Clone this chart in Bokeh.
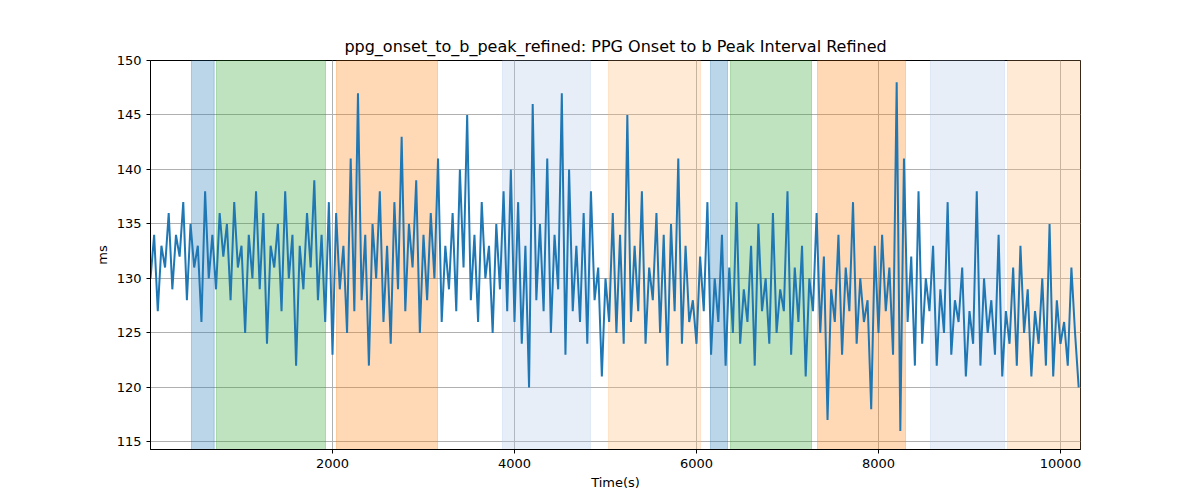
import numpy as np
from bokeh.plotting import figure
from bokeh.models import BoxAnnotation, FixedTicker
from bokeh.embed import file_html
from bokeh.resources import INLINE

# 数据：每40秒一个点
t_start, t_step = 0, 40
ms_values = [
    130,134,127,133,131,136,129,134,132,137,128,135,131,133,126,138,130,134,129,136,
    132,135,128,137,131,133,125,134,130,138,129,136,124,133,131,135,127,138,130,134,
    122,133,129,136,131,139,128,134,126,137,
    123,136,129,133,125,141,127,147,128,134,122,135,130,138,126,133,124,137,129,143,
    127,135,131,139,125,134,128,136,130,141,126,133,129,136,127,140,131,145,128,134,
    126,137,130,133,125,135,129,138,127,140,
    126,137,124,133,120,146,128,135,127,141,125,134,129,147,123,140,127,133,126,136,
    124,138,128,131,121,130,126,136,125,134,124,145,126,133,127,138,124,131,128,136,
    125,134,122,135,127,141,124,133,126,128,
    124,132,127,137,123,130,126,134,122,131,125,137,124,129,126,133,122,135,127,130,
    124,136,125,129,127,138,123,131,126,133,121,130,127,136,125,132,117,129,126,134,
    123,131,127,137,124,130,126,128,118,133,
    125,134,127,131,123,148,116,141,126,132,122,138,124,130,127,133,122,129,125,137,
    123,128,126,131,121,127,124,138,122,130,125,128,123,134,121,127,124,131,122,133,
    125,129,121,127,124,130,122,135,121,128,124,126,122,131,125,120,
]
time_s = np.arange(len(ms_values)) * t_step + t_start

# 背景区段
band_left = [450, 725, 2044, 3868, 5033, 6154, 6374, 7330, 8571, 9418]
band_right = [700, 1923, 3154, 4835, 6044, 6341, 7264, 8297, 9385, 10220]
band_color = ['#1f77b4', '#2ca02c', '#ff7f0e', '#aec7e8', '#ffbb78',
              '#1f77b4', '#2ca02c', '#ff7f0e', '#aec7e8', '#ffbb78']
band_alpha = [0.3, 0.3, 0.3, 0.3, 0.3, 0.3, 0.3, 0.3, 0.3, 0.3]

p = figure(width=1184, height=492, output_backend="svg", toolbar_location=None,
           x_range=(0, 10220), y_range=(114.3, 150.0),
           title="ppg_onset_to_b_peak_refined: PPG Onset to b Peak Interval Refined",
           x_axis_label="Time(s)", y_axis_label="ms",
           min_border_left=150, min_border_right=104, min_border_top=60, min_border_bottom=39)

for l, r, c, a in zip(band_left, band_right, band_color, band_alpha):
    p.add_layout(BoxAnnotation(left=l, right=r, fill_color=c, fill_alpha=a,
                               line_color=c, line_alpha=a, level="underlay"))

p.line(time_s, ms_values, line_width=2, color='#1f77b4')

p.title.align = "center"
p.title.text_font = "DejaVu Sans"
p.title.text_font_size = "16px"
p.title.text_font_style = "normal"
p.title.text_color = "black"
p.outline_line_color = "black"
p.xaxis.ticker = FixedTicker(ticks=[2000, 4000, 6000, 8000, 10000])
p.yaxis.ticker = FixedTicker(ticks=[115, 120, 125, 130, 135, 140, 145, 150])
for ax in (p.xaxis, p.yaxis):
    ax.axis_label_text_font = "DejaVu Sans"
    ax.axis_label_text_font_size = "13px"
    ax.axis_label_text_font_style = "normal"
    ax.axis_label_text_color = "black"
    ax.major_label_text_font = "DejaVu Sans"
    ax.major_label_text_font_size = "13px"
    ax.major_label_text_color = "black"
    ax.minor_tick_line_color = None
    ax.major_tick_in = 0
    ax.major_tick_out = 4
    ax.axis_label_standoff = 4
p.grid.grid_line_color = "#b0b0b0"

open("out.html", "w").write(file_html(p, INLINE))
